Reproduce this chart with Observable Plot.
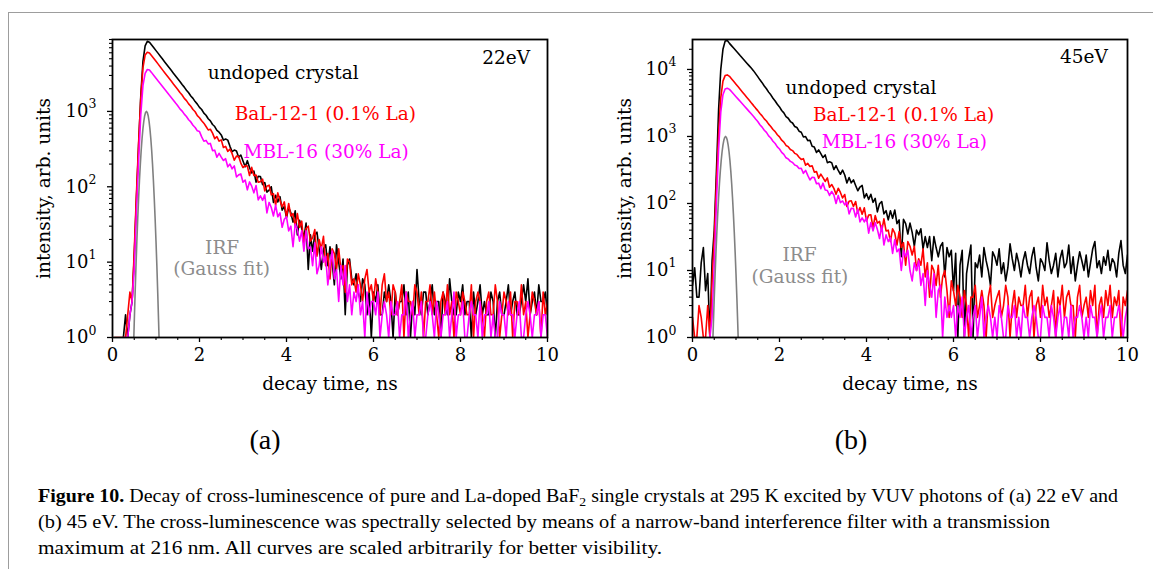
<!DOCTYPE html>
<html><head><meta charset="utf-8">
<script src="https://cdn.jsdelivr.net/npm/d3@7"></script>
<script src="https://cdn.jsdelivr.net/npm/@observablehq/plot@0.6"></script>
<style>
body{margin:0;background:#fff;}
#fig{position:relative;width:1153px;height:569px;overflow:hidden;background:#fff;}
#border{position:absolute;left:8px;top:12px;width:1300px;height:700px;border-top:1.5px solid #9d9d9d;border-left:1.5px solid #9d9d9d;}
.panel{position:absolute;top:0;}
#cap{position:absolute;left:0;top:0;}
</style></head><body>
<div id="fig">
<div id="border"></div>
<div id="pa" class="panel" style="left:0px"></div>
<div id="pb" class="panel" style="left:576px"></div>
<svg id="cap" width="1153" height="569" font-family="Liberation Serif">
  <text x="265" y="449" font-size="28" text-anchor="middle">(a)</text>
  <text x="851" y="449" font-size="28" text-anchor="middle">(b)</text>
  <text x="38" y="502" font-size="19" textLength="1080" lengthAdjust="spacingAndGlyphs"><tspan font-weight="bold">Figure 10.</tspan> Decay of cross-luminescence of pure and La-doped BaF<tspan font-size="13" dy="4">2</tspan><tspan dy="-4"> single crystals at 295 K excited by VUV photons of (a) 22 eV and</tspan></text>
  <text x="38" y="528" font-size="19" textLength="1012" lengthAdjust="spacingAndGlyphs">(b) 45 eV. The cross-luminescence was spectrally selected by means of a narrow-band interference filter with a transmission</text>
  <text x="38" y="554" font-size="19" textLength="624" lengthAdjust="spacingAndGlyphs">maximum at 216 nm. All curves are scaled arbitrarily for better visibility.</text>
</svg>
</div>
<script>
// time bin width (ns) of the decay histograms: value i is at t = i * dt
const dt = 0.05;

// ---- panel (a), 22 eV ----
const a_undoped = [
null,null,null,null,null,1,2,1,2,3,
12,70,350,1600,4600,7400,8500,8300,7620,7000,
6410,5890,5400,4950,4540,4170,3820,3510,3210,2950,
2710,2490,2270,2100,1910,1770,1600,1490,1350,1250,
1130,1060,950,890,800,750,670,630,560,530,
488,416,430,416,344,292,307,299,247,264,
220,184,222,180,153,162,115,138,137,107,
114,85,90,100,62,77,63,74,49,55,
39,53,45,34,48,23,36,28,21,33,
8,23,14,23,25,15,8,15,17,9,
16,10,5,17,10,6,11,2,9,11,
6,5,7,4,3,6,5,2,4,1,
4,3,5,2,2,4,3,5,3,1,
4,2,3,3,5,2,4,1,3,2,
8,3,2,4,4,2,3,5,2,3,
3,1,4,3,2,6,3,2,2,4,
3,5,2,3,3,1,4,2,3,5,
2,3,2,2,4,3,1,3,4,2,
2,3,5,2,3,4,2,2,3,5,
3,6,2,3,4,2,5,3,3,4,2];
const a_bal = [
null,1,1,1,1,1,1,2,4,3,
14,80,380,1500,3800,5600,6100,5950,5480,5040,
4620,4240,3890,3560,3270,3000,2750,2530,2310,2120,
1950,1780,1650,1490,1390,1260,1170,1060,990,880,
825,750,698,630,568,580,515,435,462,403,
419,332,344,295,316,275,225,255,252,206,
180,191,188,141,181,141,143,115,117,126,
88,102,105,78,81,57,83,66,54,63,
40,60,41,44,30,44,29,35,17,28,
30,19,21,27,12,20,15,22,9,13,
6,15,13,8,15,8,9,4,11,10,
5,6,4,7,5,3,6,8,4,5,
3,6,4,2,5,7,3,4,2,5,
4,2,3,5,1,4,3,3,2,5,
4,2,4,1,3,3,5,2,4,2,
1,3,4,2,5,2,3,1,4,3,
2,4,3,2,2,5,1,3,4,3,
2,1,3,4,2,2,5,3,1,2,
4,3,2,4,1,3,3,2,5,2,
3,1,2,4,3,2,3,1,4,2,3];
const a_mbl = [
null,null,null,null,null,1,1,1,2,3,
8,45,220,900,2200,3200,3600,3550,3270,3000,
2760,2530,2330,2140,1970,1810,1660,1530,1410,1290,
1190,1080,1010,920,855,775,725,655,612,552,
540,459,402,412,371,376,302,306,247,278,
247,223,236,184,200,173,189,135,144,148,
115,123,91,116,102,83,104,67,76,66,
78,45,62,53,41,57,40,45,29,37,
40,26,30,16,32,27,19,26,14,26,
15,16,9,18,7,9,16,10,12,5,
9,14,6,8,3,9,5,9,3,5,
2,4,3,5,2,3,1,4,2,3,
3,2,4,1,2,3,2,1,3,2,
2,3,1,2,2,4,1,2,3,1,
2,2,3,1,1,2,3,2,1,3,
2,1,2,2,3,1,2,4,1,2,
2,3,1,1,2,3,2,2,1,3,
1,2,2,3,1,2,1,1,3,2,
2,1,3,2,2,1,2,3,1,1,
2,3,2,1,2,2,3,1,2,2,1];
const a_irfTime = [0.48,0.50,0.52,0.54,0.56,0.58,0.60,0.62,0.64,0.66,0.68,0.70,0.72,0.74,0.76,0.78,0.80,0.82,0.84,0.86,0.88,0.90,0.92,0.94,0.96,0.98,1.00,1.02,1.04,1.06,1.08];
const a_irf = [0.62,1.6,3.9,8.9,18.9,37.6,70,122,200,307,440,592,745,877,968,1000,968,877,745,592,440,307,200,122,70,37.6,18.9,8.9,3.9,1.6,0.62];

// ---- panel (b), 45 eV ----
const b_undoped = [
6,11,4,4,13,22,5,9,1,14,
40,300,2500,10000,20000,26500,27000,24500,22500,20700,
19000,17500,16000,14700,13500,12400,11400,10500,9600,8660,
7820,7000,6350,5660,5150,4590,4180,3720,3390,3020,
2760,2440,2250,1980,1870,1670,1590,1410,1360,1200,
1155,982,997,868,880,715,694,578,630,554,
485,531,407,419,407,321,366,311,273,314,
266,202,244,203,225,186,155,176,186,121,
140,115,137,104,119,75,99,107,70,78,
57,78,60,80,50,57,16,58,50,35,
51,37,23,40,34,42,21,32,22,32,
14,32,22,16,23,26,8,22,16,20,
5,18,1,12,20,1,9,15,24,1,
13,11,17,8,22,14,10,6,19,16,
12,21,9,13,7,11,25,15,10,18,
13,8,14,19,12,9,16,22,11,7,
15,13,10,26,14,9,12,18,8,15,
20,11,13,24,9,16,7,12,19,14,
10,17,8,13,21,27,11,14,9,16,
12,20,10,15,13,8,18,28,12,9,17];
const b_bal = [
2,1,1,3,2,1,1,3,1,7,
30,200,1100,3800,6700,8100,8300,7900,7220,6590,
6020,5500,5020,4580,4180,3820,3490,3180,2910,2650,
2430,2200,2030,1830,1700,1530,1410,1270,1180,1060,
985,880,825,735,705,640,615,560,540,490,
455,466,373,396,356,366,294,299,239,274,
243,213,241,175,192,168,137,169,146,121,
136,90,108,110,90,107,72,87,69,86,
55,67,68,43,66,51,54,39,59,39,
40,27,42,36,24,38,22,26,12,27,
23,17,23,10,15,12,21,8,13,4,
12,10,6,12,4,8,10,5,2,7,
5,3,6,4,2,5,3,1,4,4,
6,2,3,5,3,1,4,6,2,3,
4,5,2,3,6,4,1,3,5,2,
4,3,3,6,2,4,5,1,3,4,
2,6,3,4,2,3,5,1,4,3,
6,2,4,5,3,3,1,4,6,2,
3,4,2,5,3,6,1,3,4,2,
5,3,6,2,4,3,5,1,4,3,5];
const b_mbl = [
null,null,null,null,null,null,null,null,1,2,
12,100,650,2300,4200,5100,5250,5050,4640,4270,
3920,3610,3320,3050,2800,2580,2370,2180,2000,1820,
1670,1500,1380,1240,1150,1020,950,850,785,700,
650,580,540,480,462,425,410,376,364,333,
335,282,312,263,224,246,243,198,201,166,
201,159,156,132,151,134,100,132,103,109,
95,105,70,85,84,63,82,53,61,53,
62,36,52,39,52,41,30,47,24,34,
27,31,18,29,19,21,10,20,16,20,
10,7,13,10,14,6,9,3,10,6,
4,9,2,5,6,1,4,2,3,2,
3,1,3,2,4,1,2,3,1,2,
3,1,2,4,1,2,3,2,1,2,
1,3,2,1,1,3,2,2,3,1,
2,1,3,2,2,1,2,3,2,1,
1,3,2,2,1,3,2,1,2,3,
1,2,2,1,3,1,2,2,3,2,
1,2,1,3,2,2,1,2,3,1,
2,2,3,1,2,2,3,2,1,2,3];
const b_irfTime = [0.46,0.48,0.50,0.52,0.54,0.56,0.58,0.60,0.62,0.64,0.66,0.68,0.70,0.72,0.74,0.76,0.78,0.80,0.82,0.84,0.86,0.88,0.90,0.92,0.94,0.96,0.98,1.00,1.02,1.04,1.06];
const b_irf = [0.62,1.6,3.9,8.9,18.9,37.6,70,122,200,307,440,592,745,877,968,1000,968,877,745,592,440,307,200,122,70,37.6,18.9,8.9,3.9,1.6,0.62];

const xMajor = [0, 2, 4, 6, 8, 10];
const xMinor = [0.5,1,1.5,2.5,3,3.5,4.5,5,5.5,6.5,7,7.5,8.5,9,9.5];
const seriesNames = ["undoped crystal", "BaL-12-1 (0.1% La)", "MBL-16 (30% La)"];

const rows = arr => arr.map((v, i) => ({t: i * dt, v}));
const irfRows = (ts, vs) => ts.map((t, i) => ({t, v: vs[i]}));
function minorLog(top) {
  const out = [];
  for (let p = 1; p <= 10000; p *= 10) for (let k = 2; k <= 9; k++) if (k * p <= top) out.push(k * p);
  return out;
}

function panel(o) {
  const FS = 18.5;
  const line = (data, color) => Plot.line(data, {x: "t", y: "v", stroke: color, strokeWidth: 1.6, clip: true});
  const lab = (t, v, text, fill, anchor) => Plot.text([{t, v, text}], {x: "t", y: "v", text: "text", fill, textAnchor: anchor, fontSize: FS});
  return Plot.plot({
    width: o.width, height: 400,
    marginLeft: o.ml, marginRight: o.mr, marginTop: 39, marginBottom: 63,
    style: {fontFamily: "DejaVu Serif", fontSize: "18px", color: "black", background: "transparent", overflow: "visible"},
    x: {domain: [0, 10]},
    y: {type: "log", domain: [1, o.yMax]},
    marks: [
      line(rows(o.undoped), "#000000"),
      line(rows(o.bal), "#ff0000"),
      line(rows(o.mbl), "#ff00ff"),
      line(irfRows(o.irfT, o.irf), "#808080"),
      Plot.frame({stroke: "black", strokeWidth: 1.8}),
      Plot.axisX({ticks: xMajor, tickSize: 5, tickPadding: 6, strokeWidth: 1.3, fontSize: 18, tickFormat: d => String(d), label: null}),
      Plot.axisX({ticks: xMinor, tickSize: 3, strokeWidth: 1.1, tickFormat: () => "", label: null}),
      Plot.axisY({ticks: o.yMajor, tickSize: 5, strokeWidth: 1.3, tickFormat: () => "", label: null}),
      Plot.axisY({ticks: minorLog(o.yMax), tickSize: 3, strokeWidth: 1.1, tickFormat: () => "", label: null}),
      Plot.text(o.yMajor, {y: d => d, frameAnchor: "left", text: () => "10", textAnchor: "end", dx: -24, lineAnchor: "middle", fontSize: 18}),
      Plot.text(o.yMajor, {y: d => d, frameAnchor: "left", text: d => String(Math.round(Math.log10(d))), textAnchor: "start", dx: -24, dy: -7, lineAnchor: "middle", fontSize: 12.5}),
      Plot.text(["decay time, ns"], {frameAnchor: "bottom", dy: 47, lineAnchor: "middle", textAnchor: "middle", fontSize: FS}),
      Plot.text(["intensity, arb. units"], {frameAnchor: "left", dx: o.ylabDx, rotate: -90, lineAnchor: "middle", textAnchor: "middle", fontSize: FS}),
      lab(o.eT, o.eV, o.energy, "black", "end"),
      lab(o.l[0][0], o.l[0][1], seriesNames[0], "black", "start"),
      lab(o.l[1][0], o.l[1][1], seriesNames[1], "#ff0000", "start"),
      lab(o.l[2][0], o.l[2][1], seriesNames[2], "#ff00ff", "start"),
      lab(o.irfLab[0], o.irfLab[1], "IRF", "#8c8c8c", "middle"),
      lab(o.irfLab[2], o.irfLab[3], "(Gauss fit)", "#8c8c8c", "middle")
    ]
  });
}

document.getElementById("pa").appendChild(panel({
  width: 576, ml: 112, mr: 29, yMax: 9000, yMajor: [1, 10, 100, 1000], ylabDx: -68,
  undoped: a_undoped, bal: a_bal, mbl: a_mbl, irfT: a_irfTime, irf: a_irf,
  energy: "22eV", eT: 9.6, eV: 5100,
  l: [[2.19, 3240], [2.81, 927], [3.01, 291]],
  irfLab: [2.52, 15.6, 2.51, 8.2]
}));
document.getElementById("pb").appendChild(panel({
  width: 577, ml: 116, mr: 26, yMax: 28000, yMajor: [1, 10, 100, 1000, 10000], ylabDx: -67,
  undoped: b_undoped, bal: b_bal, mbl: b_mbl, irfT: b_irfTime, irf: b_irf,
  energy: "45eV", eT: 9.55, eV: 15100,
  l: [[2.14, 5200], [2.77, 2060], [2.97, 813]],
  irfLab: [2.46, 16.7, 2.47, 7.9]
}));
</script>
</body></html>
